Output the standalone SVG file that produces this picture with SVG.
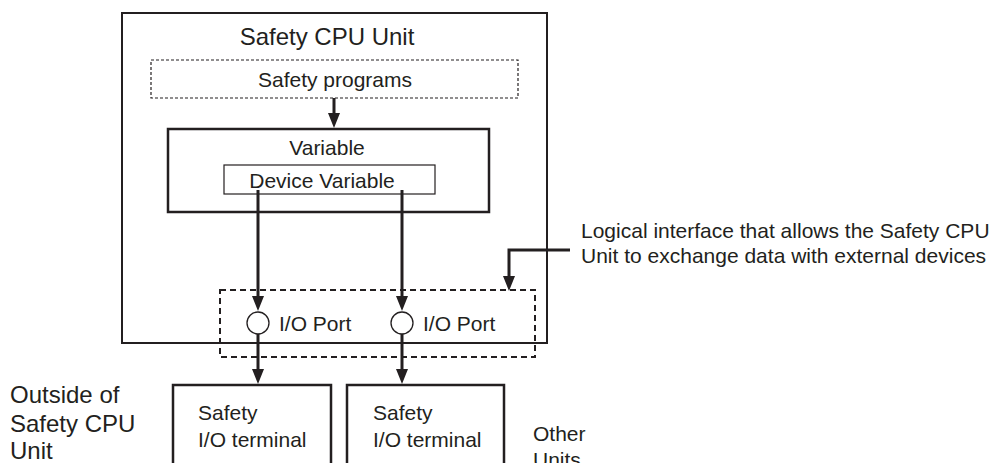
<svg xmlns="http://www.w3.org/2000/svg" width="995" height="463" viewBox="0 0 995 463">
<defs>
<marker id="ahd" markerWidth="15" markerHeight="12" refX="1" refY="6" orient="auto" markerUnits="userSpaceOnUse" viewBox="0 0 15 12" overflow="visible">
<path d="M0,0 L15,6 L0,12 Z" fill="#231f20"/>
</marker>
</defs>
<style>
text{font-family:"Liberation Sans",Arial,sans-serif;fill:#231f20;font-size:21px}
.big{font-size:24px}
.box{fill:none;stroke:#231f20}
.conn{fill:none;stroke:#231f20;stroke-width:3}
</style>
<rect width="995" height="463" fill="#fff"/>
<g id="safety-cpu-unit">
<rect class="box" x="122" y="13" width="425" height="330" stroke-width="2"/>
<text class="big" x="327" y="45" text-anchor="middle">Safety CPU Unit</text>
</g>
<g id="safety-programs">
<rect class="box" x="151" y="60" width="367" height="38" stroke-width="1.2" stroke-dasharray="3,2"/>
<text x="335" y="87" text-anchor="middle">Safety programs</text>
</g>
<g id="variable">
<rect class="box" x="168" y="129" width="321" height="83" stroke-width="2.5"/>
<text x="327" y="155" text-anchor="middle">Variable</text>
</g>
<g id="device-variable">
<rect class="box" x="224" y="165" width="211" height="29" stroke-width="1.2"/>
<text x="322" y="188" text-anchor="middle">Device Variable</text>
</g>
<g id="io-interface">
<rect class="box" x="220" y="290" width="315" height="67" stroke-width="2" stroke-dasharray="6,4"/>
</g>
<g id="io-port-1">
<circle class="box" cx="258" cy="323" r="11" stroke-width="1.3" fill="#fff"/>
<text x="279" y="331">I/O Port</text>
</g>
<g id="io-port-2">
<circle class="box" cx="402" cy="323" r="11" stroke-width="1.3" fill="#fff"/>
<text x="423" y="331">I/O Port</text>
</g>
<g id="terminal-1">
<rect class="box" x="173" y="385" width="158" height="90" stroke-width="2.5"/>
<text x="198" y="420">Safety</text>
<text x="198" y="447">I/O terminal</text>
</g>
<g id="terminal-2">
<rect class="box" x="347" y="385" width="157" height="90" stroke-width="2.5"/>
<text x="373" y="420">Safety</text>
<text x="373" y="447">I/O terminal</text>
</g>
<g id="outside-label">
<text class="big" x="10" y="403">Outside of</text>
<text class="big" x="10" y="432">Safety CPU</text>
<text class="big" x="10" y="459">Unit</text>
</g>
<g id="other-units">
<text x="533" y="441">Other</text>
<text x="533" y="467">Units</text>
</g>
<g id="callout">
<text x="581" y="238">Logical interface that allows the Safety CPU</text>
<text x="581" y="263">Unit to exchange data with external devices</text>
</g>
<g id="connectors">
<line class="conn" x1="334" y1="98" x2="334" y2="114" marker-end="url(#ahd)"/>
<line class="conn" x1="258" y1="190" x2="258" y2="297" marker-end="url(#ahd)"/>
<line class="conn" x1="402" y1="190" x2="402" y2="297" marker-end="url(#ahd)"/>
<line class="conn" x1="258" y1="334" x2="258" y2="370" marker-end="url(#ahd)"/>
<line class="conn" x1="402" y1="334" x2="402" y2="370" marker-end="url(#ahd)"/>
<polyline class="conn" points="570,250 509,250 509,277" marker-end="url(#ahd)"/>
</g>
</svg>
